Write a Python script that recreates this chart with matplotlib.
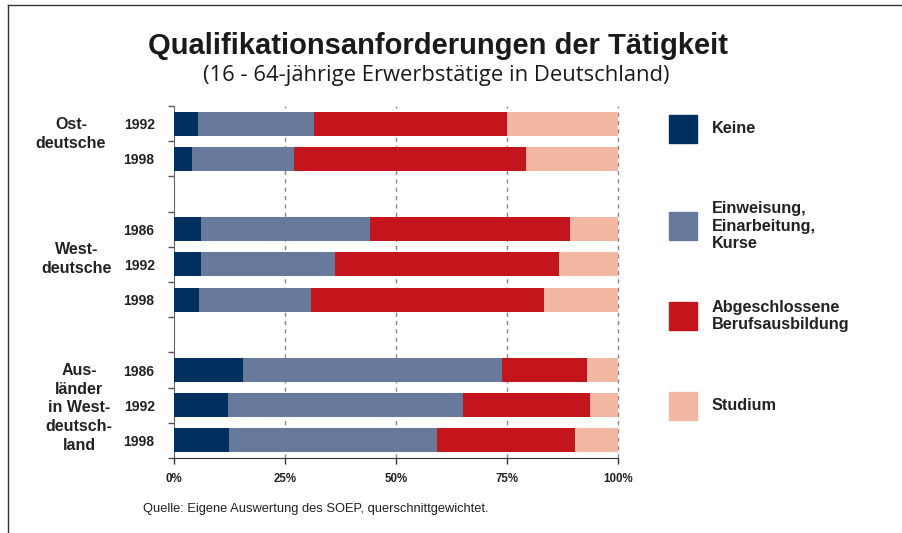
import matplotlib.pyplot as plt
from matplotlib.lines import Line2D

# data (percent shares)
years = ['1992', '1998', '1986', '1992', '1998', '1986', '1992', '1998']
group_sizes = [2, 3, 3]
group_labels = ['Ost-\ndeutsche', 'West-\ndeutsche', 'Aus-\nländer\nin West-\ndeutsch-\nland']
keine = [5.4, 4.1, 6.1, 6.1, 5.6, 15.6, 12.2, 12.4]
einweisung = [26.2, 23.0, 38.1, 30.2, 25.3, 58.3, 52.9, 46.9]
beruf = [43.5, 52.3, 45.0, 50.5, 52.5, 19.2, 28.7, 31.1]
studium = [24.9, 20.7, 10.8, 13.2, 16.6, 6.9, 6.2, 9.6]
series = ['Keine', 'Einweisung,\nEinarbeitung,\nKurse', 'Abgeschlossene\nBerufsausbildung', 'Studium']
colors = ['#003060', '#677a9c', '#c4141c', '#f2b8a2']
x_ticks = [0, 25, 50, 75, 100]

# bar slots with one empty slot between groups
pos = []
slot = 0
for n in group_sizes:
    pos += list(range(slot, slot + n))
    slot += n + 1
n_slots = slot - 1

W, H = 903, 533
fig = plt.figure(figsize=(W / 100, H / 100), dpi=100)
ax = fig.add_axes([174 / W, 1 - 458 / H, (617.7 - 174) / W, (458 - 106) / H])

left = [0] * len(pos)
for vals, col in zip([keine, einweisung, beruf, studium], colors):
    ax.barh(pos, vals, left=left, height=0.68, color=col, zorder=3)
    left = [a + b for a, b in zip(left, vals)]

ax.set_xlim(0, 100)
ax.set_ylim(n_slots - 0.5, -0.5)

ax.set_xticks(x_ticks)
ax.set_xticklabels([f'{t}%' for t in x_ticks], fontsize=8.3, fontweight='bold',
                   family='Liberation Sans', color='#222222')
ax.tick_params(axis='x', length=4, width=1, color='#333333', pad=7)
for t in x_ticks[1:]:
    ax.axvline(t, color='#888888', lw=1, ls=(0, (3, 3)), zorder=1, clip_on=False)

ax.set_yticks(pos)
ax.set_yticklabels(years, fontsize=10, fontweight='bold', family='Liberation Sans', color='#222222')
ax.tick_params(axis='y', which='major', length=0, pad=14)
ax.set_yticks([i - 0.5 for i in range(n_slots + 1)], minor=True)
ax.tick_params(axis='y', which='minor', length=4, width=1, color='#555555')

for s in ['top', 'right']:
    ax.spines[s].set_visible(False)
ax.spines['left'].set_color('#666666')
ax.spines['bottom'].set_color('#333333')

# group labels
group_x = [71, 77, 79]
group_y = [134, 259, 408]
for gx, gy, lab in zip(group_x, group_y, group_labels):
    fig.text(gx / W, 1 - gy / H, lab, ha='center', va='center', fontsize=11.5, fontweight='bold',
             family='Liberation Sans', color='#222222', linespacing=1.33)

# legend drawn by hand
leg_y = [129, 226, 316, 406]
for ly, lab, col in zip(leg_y, series, colors):
    fig.patches.append(plt.Rectangle((669 / W, 1 - (ly + 14) / H), 28 / W, 28 / H,
                                     transform=fig.transFigure, color=col))
    fig.text(712 / W, 1 - ly / H, lab, ha='left', va='center', fontsize=11.7, fontweight='bold',
             family='Liberation Sans', color='#222222', linespacing=1.17)

fig.text(438 / W, 1 - 46 / H, 'Qualifikationsanforderungen der Tätigkeit', ha='center', va='center',
         fontsize=21, fontweight='bold', family='Liberation Sans', color='#1a1a1a')
fig.text(436 / W, 1 - 75 / H, '(16 - 64-jährige Erwerbstätige in Deutschland)', ha='center', va='center',
         fontsize=15.8, family='Open Sans', color='#1a1a1a')
fig.text(143 / W, 1 - 509 / H, 'Quelle: Eigene Auswertung des SOEP, querschnittgewichtet.', ha='left',
         va='center', fontsize=9.3, family='Liberation Sans', color='#222222')

# frame lines around the chart
fig.add_artist(Line2D([8 / W, 1], [1 - 5 / H, 1 - 5 / H], transform=fig.transFigure, color='#333333', lw=1))
fig.add_artist(Line2D([8 / W, 8 / W], [0, 1 - 5 / H], transform=fig.transFigure, color='#333333', lw=1))

fig.savefig('out.png', dpi=100)
